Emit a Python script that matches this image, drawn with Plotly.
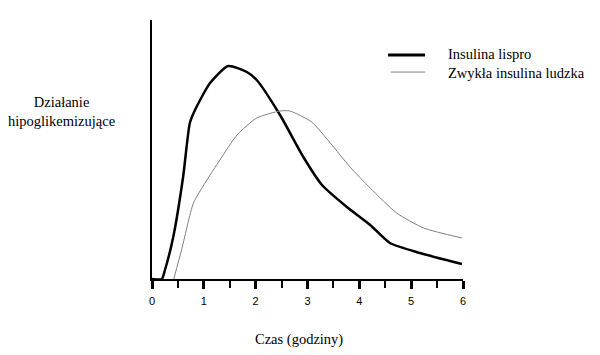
import plotly.graph_objects as go

# Time (hours) and hypoglycaemic effect (arbitrary units)
lispro_x = [0, 0.19, 0.25, 0.41, 0.60, 0.73, 0.83, 1.12, 1.47, 1.83, 2.02, 2.47, 2.92, 3.28, 3.76, 4.21, 4.59, 5.17, 5.98]
lispro_y = [0, 0, 9, 42, 102, 156, 169, 196, 213, 207, 199, 164, 122, 94, 72, 54, 36, 26, 15]

human_x = [0.42, 0.57, 0.80, 1.06, 1.31, 1.64, 2.02, 2.47, 2.66, 3.08, 3.44, 3.82, 4.21, 4.72, 5.24, 5.98]
human_y = [0, 29, 76, 99, 119, 144, 161, 168, 168, 157, 136, 112, 91, 66, 51, 41]

x_ticks = [0, 1, 2, 3, 4, 5, 6]
series_names = ["Insulina lispro", "Zwykła insulina ludzka"]

serif = "Liberation Serif, Times New Roman, serif"
sans = "Liberation Sans, Arial, sans-serif"

fig = go.Figure()
fig.add_trace(go.Scatter(x=lispro_x, y=lispro_y, mode="lines", name=series_names[0],
                         line=dict(color="black", width=2.5, shape="spline", smoothing=0.6)))
fig.add_trace(go.Scatter(x=human_x, y=human_y, mode="lines", name=series_names[1],
                         line=dict(color="#808080", width=1, shape="spline", smoothing=0.6)))

# manual legend (line samples + labels)
legend_shapes = [
    dict(type="line", xref="paper", yref="paper", x0=0.759, x1=0.878, y0=0.865, y1=0.865,
         line=dict(color="black", width=3)),
    dict(type="line", xref="paper", yref="paper", x0=0.768, x1=0.878, y0=0.799, y1=0.799,
         line=dict(color="#808080", width=1)),
]
legend_labels = [
    dict(text=series_names[0], xref="paper", yref="paper", x=0.945, y=0.869,
         xanchor="left", yanchor="middle", showarrow=False,
         font=dict(family=serif, size=14.5, color="black")),
    dict(text=series_names[1], xref="paper", yref="paper", x=0.945, y=0.795,
         xanchor="left", yanchor="middle", showarrow=False,
         font=dict(family=serif, size=14.5, color="black")),
]

fig.update_layout(
    width=600, height=355,
    margin=dict(l=152, r=137, t=20, b=76),
    paper_bgcolor="white", plot_bgcolor="white",
    showlegend=False,
    xaxis=dict(range=[0, 6], showgrid=False, zeroline=False,
               showline=True, linecolor="black", linewidth=2,
               tickmode="array", tickvals=x_ticks, ticktext=[str(v) for v in x_ticks],
               ticks="outside", ticklen=8, tickwidth=3, tickcolor="black",
               ticklabelstandoff=3,
               minor=dict(dtick=0.5, ticks="outside", ticklen=7, tickwidth=2, tickcolor="black"),
               tickfont=dict(family=sans, size=11, color="black")),
    yaxis=dict(range=[0, 259], showgrid=False, zeroline=False,
               showline=True, linecolor="black", linewidth=2,
               showticklabels=False, ticks=""),
    shapes=legend_shapes,
    annotations=legend_labels + [
        dict(text="Działanie<br>hipoglikemizujące", xref="paper", yref="paper",
             x=-0.292, y=0.647, xanchor="center", yanchor="middle", showarrow=False,
             font=dict(family=serif, size=14.5, color="black")),
        dict(text="Czas (godziny)", xref="paper", yref="paper",
             x=0.473, y=-0.232, xanchor="center", yanchor="middle", showarrow=False,
             font=dict(family=serif, size=14.5, color="black")),
    ],
)

fig.write_html("out.html", config={"displayModeBar": False},
               post_script="document.body.style.margin='0';")
